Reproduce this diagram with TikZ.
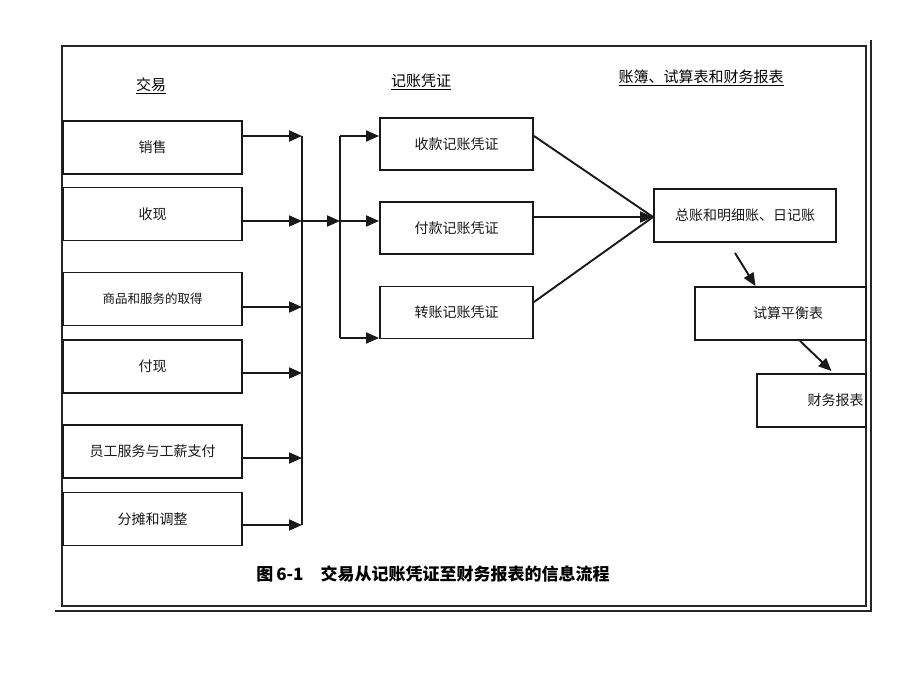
\documentclass[tikz,border=0pt]{standalone}
\usepackage{fontspec}
\setmainfont{Liberation Serif}
\newfontfamily\cjk{Noto Sans CJK SC}
\usetikzlibrary{arrows.meta}
\begin{document}
\begin{tikzpicture}[x=1pt,y=-1pt,
  ln/.style={line width=1.9pt,black!90},
  arr/.style={ln,-{Triangle[length=13pt,width=11pt]}},
  box/.style={draw,line width=1.9pt,black!90,inner sep=0pt,font=\cjk\fontsize{14}{16}\selectfont},
  lbox/.style={box,minimum width=179pt,minimum height=53pt},
  mbox/.style={box,minimum width=153pt,minimum height=52pt},
  hdr/.style={font=\cjk\fontsize{15}{17}\selectfont,inner sep=0pt},
  frame/.style={line width=1.6pt,black!85}]
\useasboundingbox (0,0) rectangle (920,690);
\fill[white] (0,0) rectangle (920,690);
% frame
\draw[frame] (62,46) rectangle (866,606);
\draw[frame] (871,40) -- (871,611) -- (55,611);
% headers
\node[hdr] (h1) at (151,86) {\underline{交易}};
\node[hdr] (h2) at (421,82) {\underline{记账凭证}};
\node[hdr] (h3) at (701,78) {\underline{账簿、试算表和财务报表}};
% left boxes
\node[lbox] (s1) at (152.5,147.5) {销售};
\node[lbox] (s2) at (152.5,214) {收现};
\node[lbox,font=\cjk\fontsize{12.5}{15}\selectfont] (s3) at (152.5,299) {商品和服务的取得};
\node[lbox] (s4) at (152.5,366.5) {付现};
\node[lbox] (s5) at (152.5,451.5) {员工服务与工薪支付};
\node[lbox] (s6) at (152.5,519) {分摊和调整};
% bus coordinates
\coordinate (b1) at (302,136);
\coordinate (b2) at (302,221);
\coordinate (b3) at (302,307);
\coordinate (b4) at (302,373);
\coordinate (b5) at (302,458);
\coordinate (b6) at (302,525);
\coordinate (c1) at (340,136);
\coordinate (c2) at (340,221);
\coordinate (c3) at (340,338);
\draw[arr] (s1.east|-b1) -- (b1);
\draw[arr] (s2.east|-b2) -- (b2);
\draw[arr] (s3.east|-b3) -- (b3);
\draw[arr] (s4.east|-b4) -- (b4);
\draw[arr] (s5.east|-b5) -- (b5);
\draw[arr] (s6.east|-b6) -- (b6);
\draw[ln] (b1) -- (b6);
\draw[arr] (b2) -- (c2);
\draw[ln] (c1) -- (c3);
% middle boxes
\node[mbox] (m1) at (456.5,144) {收款记账凭证};
\node[mbox] (m2) at (456.5,228) {付款记账凭证};
\node[mbox] (m3) at (456.5,312.5) {转账记账凭证};
\draw[arr] (c1) -- (m1.west|-c1);
\draw[arr] (c2) -- (m2.west|-c2);
\draw[arr] (c3) -- (m3.west|-c3);
% right boxes
\node[box,minimum width=182pt,minimum height=53pt] (z) at (745,215.5) {总账和明细账、日记账};
\node[box,minimum width=171pt,minimum height=53pt,text width=150pt,align=center] (t) at (780.5,313.5) {\hspace*{15pt}试算平衡表};
\node[box,minimum width=109pt,minimum height=53pt,text width=104pt,align=right] (f) at (811.5,400.5) {财务报表};
% converge
\draw[ln] (m1.east|-0,136) -- (z.west|-0,217);
\draw[ln] (m3.east|-0,302) -- (z.west|-0,217);
\draw[arr] (m2.east|-0,217) -- (z.west|-0,217);
% down arrows
\draw[arr] ([shift={(-10,10)}]z.south) -- ([xshift=-25]t.north);
\draw[arr] ([xshift=19.5]t.south) -- ([shift={(20,-2)}]f.north);
% caption
\node[font=\cjk\bfseries\fontsize{17}{20}\selectfont,inner sep=0pt] (cap) at (433,574) {图\,6-1\hspace{1em}交易从记账凭证至财务报表的信息流程};
\end{tikzpicture}
\end{document}
